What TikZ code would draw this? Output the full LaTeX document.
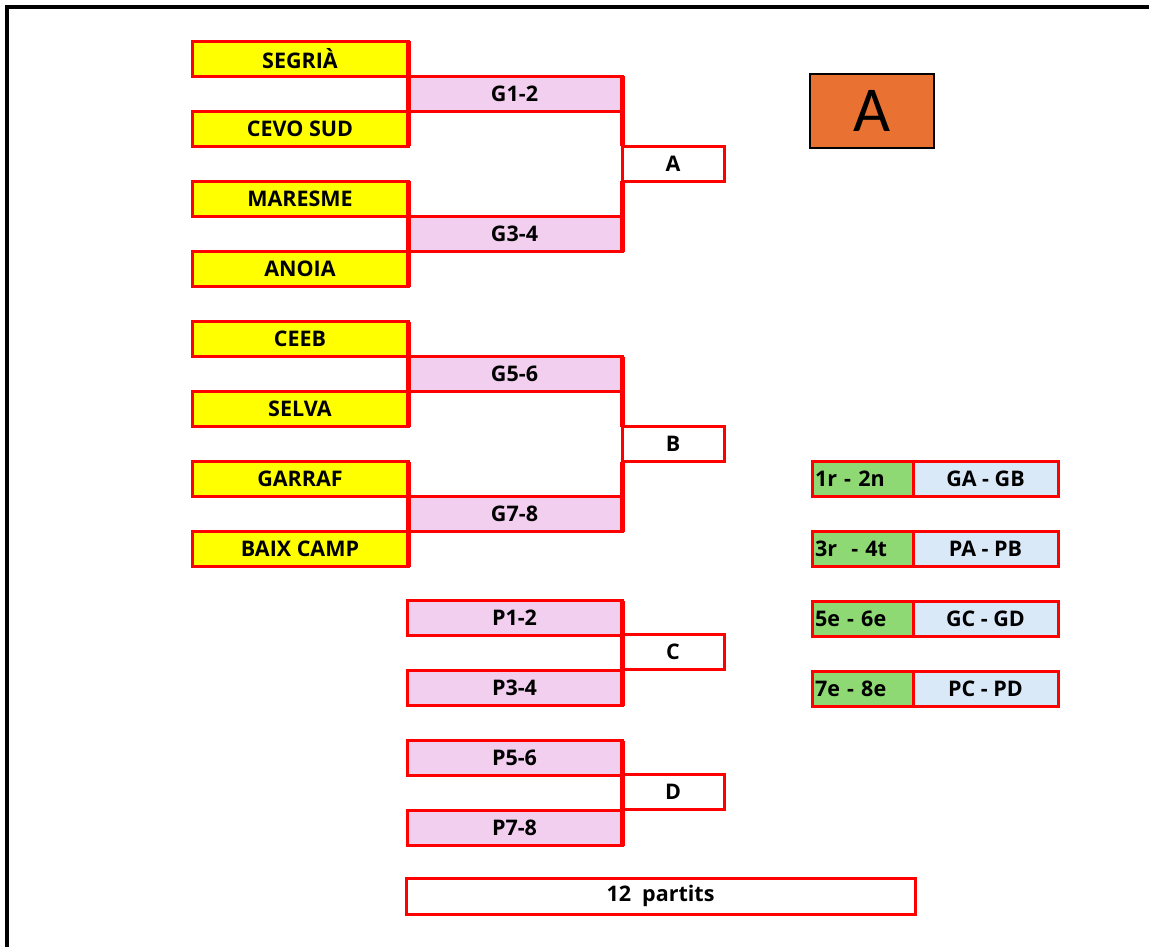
\documentclass[tikz,border=0pt]{standalone}
\usepackage{fontspec}
\setmainfont{Open Sans}
\newfontfamily\calib{Carlito}
\definecolor{teamyel}{HTML}{FFFF00}
\definecolor{gpink}{HTML}{F2CEEF}
\definecolor{resgreen}{HTML}{8ED973}
\definecolor{resblue}{HTML}{DAE9F8}
\definecolor{grporange}{HTML}{E97132}
\definecolor{bred}{HTML}{FF0000}
\tikzset{
  box/.style={draw=bred, line width=3pt, rectangle, inner sep=0pt, outer sep=0pt, minimum height=35pt,
    font=\fontsize{21.5}{24}\selectfont\bfseries, text=black},
  team/.style={box, fill=teamyel, minimum width=216pt},
  game/.style={box, fill=gpink, minimum width=215pt},
  final/.style={box, fill=white, minimum width=102pt},
  place/.style={box, fill=resgreen, minimum width=101pt, text width=95pt, align=left},
  pair/.style={box, fill=resblue, minimum width=145pt},
  link/.style={draw=bred, line width=5pt},
}
\begin{document}
\begin{tikzpicture}[x=1pt,y=-1pt]
\useasboundingbox (0,0) rectangle (1149,947);
\draw[line width=4pt] (7,947) -- (7,7) -- (1149,7);
% teams
\node[team] (t1) at (300,59) {SEGRIÀ};
\node[team] (t2) at (300,129) {CEVO SUD};
\node[team] (t3) at (300,199) {MARESME};
\node[team] (t4) at (300,269) {ANOIA};
\node[team] (t5) at (300,339) {CEEB};
\node[team] (t6) at (300,409) {SELVA};
\node[team] (t7) at (300,479) {GARRAF};
\node[team] (t8) at (300,549) {BAIX CAMP};
% group games
\node[game] (g12) at (514.5,94) {G1-2};
\node[game] (g34) at (514.5,234) {G3-4};
\node[game] (g56) at (514.5,374) {G5-6};
\node[game] (g78) at (514.5,514) {G7-8};
\node[final] (fa) at (673,164) {A};
\node[final] (fb) at (673,444) {B};
% places
\node[game] (p12) at (514.5,618) {P1-2};
\node[game] (p34) at (514.5,688) {P3-4};
\node[game] (p56) at (514.5,758) {P5-6};
\node[game] (p78) at (514.5,828) {P7-8};
\node[final] (fc) at (673,652) {C};
\node[final] (fd) at (673,792) {D};
% connectors
\draw[link] (t1.north east) -- (t2.south east);
\draw[link] (t3.north east) -- (t4.south east);
\draw[link] (t5.north east) -- (t6.south east);
\draw[link] (t7.north east) -- (t8.south east);
\draw[link] (g12.north east) -- (fa.north west);
\draw[link] (fa.south west) -- (g34.south east);
\draw[link] (g56.north east) -- (fb.north west);
\draw[link] (fb.south west) -- (g78.south east);
\draw[link] (p12.north east) -- (p34.south east);
\draw[link] (p56.north east) -- (p78.south east);
% group label
\node[draw=black, line width=2pt, fill=grporange, minimum width=124pt, minimum height=74pt, inner sep=0pt, outer sep=0pt,
  font=\calib\fontsize{64}{66}\selectfont] (grp) at (872,111) {A};
% results
\node[place] (r1) at (862.5,479) {1r - 2n};
\node[pair] (q1) at (985.5,479) {GA - GB};
\node[place] (r2) at (862.5,549) {3r\ \ - 4t};
\node[pair] (q2) at (985.5,549) {PA - PB};
\node[place] (r3) at (862.5,619) {5e - 6e};
\node[pair] (q3) at (985.5,619) {GC - GD};
\node[place] (r4) at (862.5,689) {7e - 8e};
\node[pair] (q4) at (985.5,689) {PC - PD};
% total
\node[box, fill=white, minimum width=509pt, minimum height=36pt] (tot) at (660.5,896) {12\ \ partits};
\end{tikzpicture}
\end{document}
